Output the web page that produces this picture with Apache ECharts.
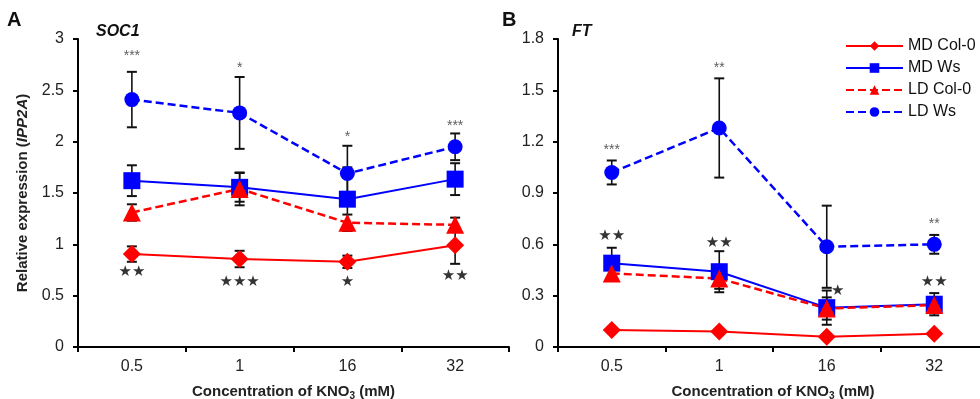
<!DOCTYPE html>
<html>
<head>
<meta charset="utf-8">
<script src="https://cdn.jsdelivr.net/npm/echarts@6/dist/echarts.min.js"></script>
<style>
  html, body { margin: 0; padding: 0; background: #fff; }
  #chart { width: 980px; height: 399px; }
</style>
</head>
<body>
<div id="chart"></div>
<script>
// categories (KNO3 concentration, mM)
const categories = ['0.5', '1', '16', '32'];
const seriesNames = ['MD Col-0', 'MD Ws', 'LD Col-0', 'LD Ws'];

// panel A: SOC1
const socMdCol = [0.905, 0.857, 0.83, 0.99];
const socMdColErr = [0.075, 0.08, 0.06, 0.18];
const socMdWs = [1.62, 1.555, 1.44, 1.635];
const socMdWsErr = [0.15, 0.14, 0.31, 0.155];
const socLdCol = [1.31, 1.54, 1.21, 1.19];
const socLdColErr = [0.08, 0.16, 0.08, 0.07];
const socLdWs = [2.41, 2.28, 1.69, 1.95];
const socLdWsErr = [0.27, 0.35, 0.27, 0.13];

// panel B: FT
const ftMdCol = [0.10, 0.09, 0.06, 0.077];
const ftMdColErr = [0.01, 0.01, 0.01, 0.01];
const ftMdWs = [0.49, 0.44, 0.23, 0.25];
const ftMdWsErr = [0.09, 0.12, 0.10, 0.065];
const ftLdCol = [0.43, 0.40, 0.225, 0.245];
const ftLdColErr = [0.03, 0.06, 0.065, 0.04];
const ftLdWs = [1.02, 1.28, 0.586, 0.60];
const ftLdWsErr = [0.07, 0.29, 0.24, 0.055];

// significance marks: [category, y value, text]
const socAsterisks = [['0.5', 2.86, '***'], ['1', 2.75, '*'], ['16', 2.07, '*'], ['32', 2.18, '***']];
const socStars = [['0.5', 0.76, '★★'], ['1', 0.66, '★★★'], ['16', 0.66, '★'], ['32', 0.72, '★★']];
const ftAsterisks = [['0.5', 1.17, '***'], ['1', 1.648, '**'], ['32', 0.736, '**']];
const ftStars = [['0.5', 0.665, '★★'], ['1', 0.625, '★★'], ['16', 0.347, '★'], ['32', 0.397, '★★']];

// axis ranges
const socMax = 3, socStep = 0.5;
const ftMax = 1.8, ftStep = 0.3;

const FONT = 'Arial, "Liberation Sans", sans-serif';
const RED = '#ff0000';
const BLUE = '#0000ff';

const STYLE = {
  'MD Col-0': { color: RED, symbol: 'diamond', size: 18, dash: 'solid', width: 2 },
  'MD Ws': { color: BLUE, symbol: 'rect', size: 17, dash: 'solid', width: 2 },
  'LD Col-0': { color: RED, symbol: 'triangle', size: 18, dash: [8, 4], width: 2.5 },
  'LD Ws': { color: BLUE, symbol: 'circle', size: 15, dash: [8, 4], width: 2.5 },
};

function lineSeries(idx, name, values) {
  const s = STYLE[name];
  return {
    name,
    type: 'line',
    xAxisIndex: idx,
    yAxisIndex: idx,
    data: values,
    symbol: s.symbol,
    symbolSize: s.size,
    showAllSymbol: true,
    lineStyle: { color: s.color, width: s.width, type: s.dash },
    itemStyle: { color: s.color },
    z: 3,
  };
}

function errorSeries(idx, values, errs) {
  return {
    type: 'custom',
    xAxisIndex: idx,
    yAxisIndex: idx,
    silent: true,
    z: 2,
    encode: { x: 0, y: [1, 2] },
    data: values.map((v, i) => [i, v - errs[i], v + errs[i]]),
    renderItem(params, api) {
      const lo = api.coord([api.value(0), api.value(1)]);
      const hi = api.coord([api.value(0), api.value(2)]);
      const w = 5;
      return {
        type: 'group',
        children: [
          { type: 'line', shape: { x1: hi[0], y1: hi[1], x2: lo[0], y2: lo[1] }, style: { stroke: '#111', lineWidth: 1.6 } },
          { type: 'line', shape: { x1: hi[0] - w, y1: hi[1], x2: hi[0] + w, y2: hi[1] }, style: { stroke: '#111', lineWidth: 2 } },
          { type: 'line', shape: { x1: lo[0] - w, y1: lo[1], x2: lo[0] + w, y2: lo[1] }, style: { stroke: '#111', lineWidth: 2 } },
        ],
      };
    },
  };
}

function markSeries(idx, marks, kind, nudge) {
  const isStar = kind === 'star';
  const dy = 3;
  return {
    type: 'scatter',
    xAxisIndex: idx,
    yAxisIndex: idx,
    silent: true,
    z: 5,
    symbol: 'circle',
    symbolSize: 1,
    itemStyle: { color: 'rgba(0,0,0,0)' },
    data: marks.map((m) => ({
      value: [m[0], m[1], m[2]],
      label: nudge && nudge[m[0]] ? { offset: [nudge[m[0]], dy] } : undefined,
    })),
    label: {
      show: true,
      position: 'inside',
      formatter: (p) => p.value[2],
      fontSize: isStar ? 15 : 14,
      fontFamily: isStar ? '"DejaVu Sans", sans-serif' : FONT,
      color: isStar ? '#000' : '#333',
      offset: [0, dy],
    },
  };
}

const axisLine = { show: true, lineStyle: { color: '#000', width: 2 } };
const axisTick = { show: true, length: 5, lineStyle: { color: '#000', width: 2 } };

function xAxis(idx) {
  return {
    type: 'category',
    gridIndex: idx,
    data: categories,
    axisLine,
    axisTick,
    axisLabel: { fontSize: 16, color: '#222', fontFamily: FONT, margin: 12 },
    name: 'Concentration of KNO{sub|3} (mM)',
    nameLocation: 'middle',
    nameGap: 35,
    nameTextStyle: {
      fontSize: 15, fontWeight: 'bold', color: '#222', fontFamily: FONT,
      rich: { sub: { fontSize: 10, fontWeight: 'bold', color: '#222', fontFamily: FONT, padding: [9, 0, 0, 0] } },
    },
  };
}

function yAxis(idx, max, step, withName) {
  const ax = {
    type: 'value',
    gridIndex: idx,
    min: 0,
    max,
    interval: step,
    axisLine,
    axisTick,
    splitLine: { show: false },
    axisLabel: {
      fontSize: 16, color: '#222', fontFamily: FONT, margin: 14,
      formatter: (v) => String(Math.round(v * 10) / 10),
    },
  };
  if (withName) {
    ax.name = '{a|Relative expression (}{i|IPP2A}{a|)}';
    ax.nameLocation = 'middle';
    ax.nameGap = 48;
    ax.nameTextStyle = {
      rich: {
        a: { fontSize: 15, fontWeight: 'bold', color: '#222', fontFamily: FONT },
        i: { fontSize: 15, fontWeight: 'bold', fontStyle: 'italic', color: '#222', fontFamily: FONT },
      },
    };
  }
  return ax;
}

const titleText = (text, left, top, size, italic) => ({
  text, left, top, padding: 0,
  textStyle: { fontSize: size, fontWeight: 'bold', fontStyle: italic ? 'italic' : 'normal', color: '#111', fontFamily: FONT },
});

const chart = echarts.init(document.getElementById('chart'), null, { renderer: 'canvas' });

chart.setOption({
  animation: false,
  backgroundColor: '#fff',
  title: [
    titleText('A', 7, 10, 20, false),
    titleText('SOC1', 96, 24, 16, true),
    titleText('B', 502, 10, 20, false),
    titleText('FT', 572, 24, 16, true),
  ],
  legend: {
    orient: 'vertical',
    left: 845,
    top: 38,
    itemWidth: 57,
    itemHeight: 12,
    itemGap: 6,
    padding: 0,
    textStyle: { fontSize: 16, color: '#111', fontFamily: FONT },
    data: seriesNames,
  },
  grid: [
    { left: 78, top: 39, width: 431, height: 308, outerBoundsMode: 'none' },
    { left: 558, top: 39, width: 430, height: 308, outerBoundsMode: 'none' },
  ],
  xAxis: [xAxis(0), xAxis(1)],
  yAxis: [yAxis(0, socMax, socStep, true), yAxis(1, ftMax, ftStep, false)],
  series: [
    errorSeries(0, socMdCol, socMdColErr),
    errorSeries(0, socMdWs, socMdWsErr),
    errorSeries(0, socLdCol, socLdColErr),
    errorSeries(0, socLdWs, socLdWsErr),
    lineSeries(0, 'MD Col-0', socMdCol),
    lineSeries(0, 'MD Ws', socMdWs),
    lineSeries(0, 'LD Col-0', socLdCol),
    lineSeries(0, 'LD Ws', socLdWs),
    markSeries(0, socAsterisks, 'asterisk'),
    markSeries(0, socStars, 'star'),

    errorSeries(1, ftMdCol, ftMdColErr),
    errorSeries(1, ftMdWs, ftMdWsErr),
    errorSeries(1, ftLdCol, ftLdColErr),
    errorSeries(1, ftLdWs, ftLdWsErr),
    lineSeries(1, 'MD Col-0', ftMdCol),
    lineSeries(1, 'MD Ws', ftMdWs),
    lineSeries(1, 'LD Col-0', ftLdCol),
    lineSeries(1, 'LD Ws', ftLdWs),
    markSeries(1, ftAsterisks, 'asterisk'),
    markSeries(1, ftStars, 'star', { '16': 11 }),
  ],
});
</script>
</body>
</html>
